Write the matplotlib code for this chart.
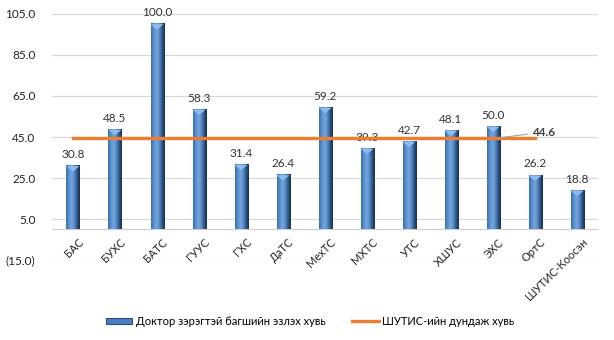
import numpy as np
import matplotlib
matplotlib.use("Agg")
import matplotlib.pyplot as plt
from matplotlib.colors import LinearSegmentedColormap
from matplotlib.patches import Polygon, Patch
from matplotlib.lines import Line2D
from matplotlib.ticker import FuncFormatter

plt.rcParams['font.family'] = ['Lato', 'DejaVu Sans']

categories = ["БАС", "БУХС", "БАТС", "ГУУС", "ГХС", "ДаТС", "МехТС", "МХТС",
              "УТС", "ХШУС", "ЭХС", "ОртС", "ШУТИС-Коосэн"]
doctor_share = [30.8, 48.5, 100.0, 58.3, 31.4, 26.4, 59.2, 39.3, 42.7, 48.1, 50.0, 26.2, 18.8]
average_share = 44.6
avg_span = categories[:12]
y_ticks = [-15, 5, 25, 45, 65, 85, 105]

bar_name = "Доктор зэрэгтэй багшийн эзлэх хувь"
line_name = "ШУТИС-ийн дундаж хувь"

fig = plt.figure(figsize=(6.14, 3.40), dpi=100)
ax = fig.add_axes([0.0847, 0.235, 0.8893, 0.724])

x = np.arange(len(categories))
w = 0.31

# cylinder-like shading across each bar
cyl = LinearSegmentedColormap.from_list(
    "cyl", ["#3d6fa6", "#5b8fcc", "#74a6e0", "#5a8cc6", "#2f5784", "#17304f"])
grad = np.linspace(0, 1, 64).reshape(1, -1)

for xi, v in zip(x, doctor_share):
    ax.imshow(grad, cmap=cyl, aspect="auto", extent=[xi - w / 2, xi + w / 2, 0, v],
              zorder=3, interpolation="bilinear")
    ax.add_patch(Polygon([[xi - w / 2, v], [xi + w / 2, v], [xi, v - 2.6]],
                         closed=True, facecolor="#8dbdee", edgecolor="none", zorder=4))
    ax.text(xi, v + 3.0, f"{v:.1f}", ha="center", va="bottom", fontsize=8.5,
            color="#333333", zorder=5)

ax.set_xlim(-0.5, len(categories) - 0.5)
ax.set_ylim(-15, 105)

ax.plot(np.arange(len(avg_span)), [average_share] * len(avg_span),
        color="#ed7d31", lw=2.4, zorder=6)
ax.annotate(f"{average_share:.1f}", xy=(10.15, average_share), xytext=(10.93, 47.4),
            fontsize=8.5, fontweight="bold", color="#404040", ha="left", va="center",
            arrowprops=dict(arrowstyle="-", color="#a0a0a0", lw=0.8,
                            shrinkA=1, shrinkB=0), zorder=7)

ax.set_yticks(y_ticks)
ax.yaxis.set_major_formatter(FuncFormatter(
    lambda v, p: f"({abs(v):.1f})" if v < 0 else f"{v:.1f}"))
ax.grid(axis="y", color="#d9d9d9", lw=0.9, zorder=0)
ax.axhline(0, color="#d0d0d0", lw=0.9, zorder=1)
ax.set_axisbelow(True)
for s in ax.spines.values():
    s.set_visible(False)
ax.tick_params(axis="y", length=0, labelsize=8.5, labelcolor="#222222", pad=12)
ax.tick_params(axis="x", length=0, pad=0)

ax.set_xticks(x)
ax.set_xticklabels([])
for xi, lab in zip(x, categories):
    ax.text(xi + 0.12, -3.5, lab, rotation=45, ha="right", va="top",
            rotation_mode="anchor", fontsize=8, color="#222222")

handles = [Patch(facecolor="#4a7fc0", edgecolor="#2c4f7a", lw=0.8),
           Line2D([0], [0], color="#ed7d31", lw=2.4)]
fig.legend(handles, [bar_name, line_name], loc="center", ncol=2,
           bbox_to_anchor=(0.505, 0.055), frameon=False, fontsize=8,
           handlelength=2.4, handleheight=0.5, handletextpad=0.3, columnspacing=2.4)

fig.savefig("out.png", dpi=100)
